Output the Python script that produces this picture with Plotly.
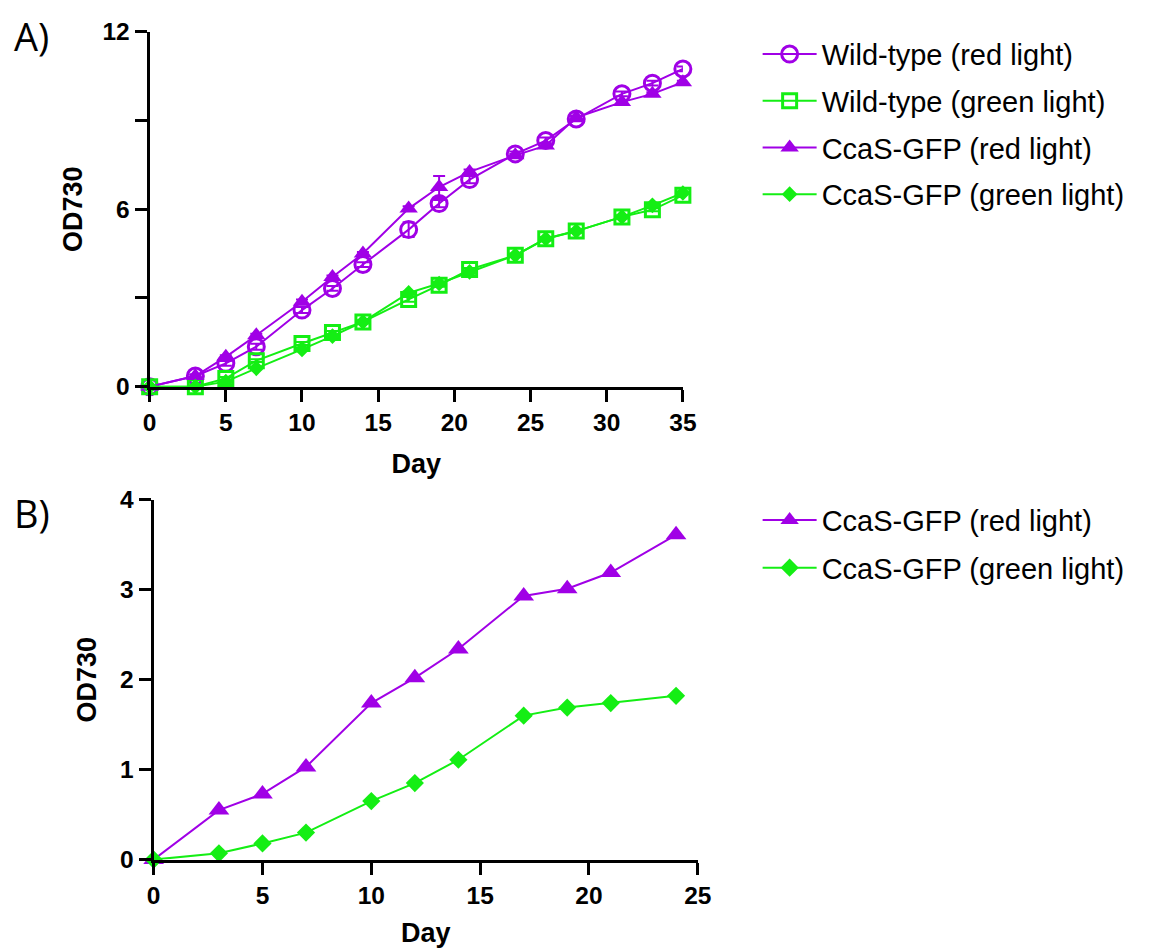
import plotly.graph_objects as go

# Figure size and a small screen-to-figure pixel calibration
FW, FH = 1150, 960
KX, CX = 0.985, -2.0
KY, CY = 0.972, 4.5
OFF = 8

# ---------------- Data ----------------
days_a = [0, 3, 5, 7, 10, 12, 14, 17, 19, 21, 24, 26, 28, 31, 33, 35]
wt_red = [0, 0.36, 0.79, 1.35, 2.59, 3.32, 4.13, 5.31, 6.19, 7.0, 7.87, 8.32, 9.05, 9.9, 10.26, 10.74]
wt_red_err = [0, 0.05, 0.08, 0.1, 0.1, 0.08, 0.08, 0.25, 0.12, 0.12, 0.08, 0.1, 0.08, 0.08, 0.08, 0.08]
wt_green = [0, 0.0, 0.28, 0.88, 1.46, 1.83, 2.19, 2.95, 3.43, 3.96, 4.44, 5.0, 5.26, 5.74, 5.98, 6.47]
wt_green_err = [0, 0.03, 0.05, 0.05, 0.05, 0.05, 0.05, 0.08, 0.05, 0.05, 0.05, 0.05, 0.05, 0.05, 0.05, 0.05]
ccas_red_a = [0, 0.36, 1.01, 1.74, 2.87, 3.71, 4.5, 6.02, 6.75, 7.26, 7.82, 8.15, 9.1, 9.62, 9.9, 10.29]
ccas_red_a_err = [0, 0.05, 0.05, 0.05, 0.08, 0.05, 0.05, 0.08, 0.37, 0.08, 0.05, 0.08, 0.05, 0.05, 0.05, 0.05]
ccas_green_a = [0, 0.0, 0.17, 0.62, 1.26, 1.71, 2.19, 3.17, 3.49, 3.88, 4.44, 5.0, 5.26, 5.74, 6.13, 6.55]
ccas_green_a_err = [0, 0.02, 0.03, 0.03, 0.05, 0.05, 0.05, 0.05, 0.05, 0.05, 0.05, 0.05, 0.05, 0.05, 0.05, 0.05]

days_b = [0, 3, 5, 7, 10, 12, 14, 17, 19, 21, 24]
ccas_red_b = [0, 0.55, 0.73, 1.03, 1.74, 2.02, 2.34, 2.93, 3.01, 3.19, 3.61]
ccas_green_b = [0, 0.07, 0.18, 0.30, 0.65, 0.85, 1.11, 1.60, 1.69, 1.74, 1.82]

names = ["Wild-type (red light)", "Wild-type (green light)",
         "CcaS-GFP (red light)", "CcaS-GFP (green light)"]

PURPLE = "#A000E6"
GREEN = "#14EE14"

fig = go.Figure()

def err(vals, color):
    return dict(type="data", array=vals, visible=True, color=color,
                thickness=2, width=6)

# Panel A
fig.add_trace(go.Scatter(x=days_a, y=wt_red, name=names[0], mode="lines+markers",
    line=dict(color=PURPLE, width=2),
    marker=dict(symbol="circle-open", size=16, color=PURPLE, line=dict(width=3)),
    error_y=err(wt_red_err, PURPLE),
    xaxis="x", yaxis="y", legend="legend", legendgroup="a1", cliponaxis=False))
fig.add_trace(go.Scatter(x=days_a, y=wt_green, name=names[1], mode="lines+markers",
    line=dict(color=GREEN, width=2),
    marker=dict(symbol="square-open", size=14, color=GREEN, line=dict(width=3)),
    error_y=err(wt_green_err, GREEN),
    xaxis="x", yaxis="y", legend="legend", legendgroup="a2", cliponaxis=False))
fig.add_trace(go.Scatter(x=days_a, y=ccas_red_a, name=names[2], mode="lines+markers",
    line=dict(color=PURPLE, width=2),
    marker=dict(symbol="triangle-up", size=16, color=PURPLE),
    error_y=err(ccas_red_a_err, PURPLE),
    xaxis="x", yaxis="y", legend="legend", legendgroup="a3", cliponaxis=False))
fig.add_trace(go.Scatter(x=days_a, y=ccas_green_a, name=names[3], mode="lines+markers",
    line=dict(color=GREEN, width=2),
    marker=dict(symbol="diamond", size=12, color=GREEN),
    error_y=err(ccas_green_a_err, GREEN),
    xaxis="x", yaxis="y", legend="legend", legendgroup="a4", cliponaxis=False))

# Panel B
fig.add_trace(go.Scatter(x=days_b, y=ccas_red_b, name=names[2], mode="lines+markers",
    line=dict(color=PURPLE, width=2),
    marker=dict(symbol="triangle-up", size=18, color=PURPLE),
    xaxis="x2", yaxis="y2", legend="legend2", legendgroup="b1", cliponaxis=False))
fig.add_trace(go.Scatter(x=days_b, y=ccas_green_b, name=names[3], mode="lines+markers",
    line=dict(color=GREEN, width=2),
    marker=dict(symbol="diamond", size=14, color=GREEN),
    xaxis="x2", yaxis="y2", legend="legend2", legendgroup="b2", cliponaxis=False))

def px_x(s):
    return ((s - CX) / KX - OFF) / FW

def px_y(s):
    return 1 - ((s - CY) / KY - OFF) / FH

tickfont = dict(family="Liberation Sans", size=24.5, color="black", weight="bold")
titlefont = dict(family="Liberation Sans", size=27, color="black", weight="bold")
legfont = dict(family="Liberation Sans", size=29, color="black")

axis_common = dict(showline=True, linecolor="black", linewidth=3, ticks="outside",
                   tickwidth=3, ticklen=12, tickcolor="black", showgrid=False,
                   zeroline=False, tickfont=tickfont, title_font=titlefont)

fig.update_layout(
    width=FW, height=FH,
    margin=dict(l=0, r=0, t=0, b=0),
    paper_bgcolor="white", plot_bgcolor="white",
    xaxis=dict(domain=[px_x(149), px_x(684)], range=[0, 35], tickvals=[0, 5, 10, 15, 20, 25, 30, 35],
               anchor="y", title=dict(text="Day", standoff=20), **axis_common),
    yaxis=dict(domain=[px_y(386), px_y(31)], range=[0, 12],
               tickvals=[0, 3, 6, 9, 12], ticktext=["0", "", "6", "", "12"],
               anchor="x", title=dict(text="OD730", standoff=13), **axis_common),
    xaxis2=dict(domain=[px_x(153), px_x(699)], range=[0, 25], tickvals=[0, 5, 10, 15, 20, 25],
                anchor="y2", title=dict(text="Day", standoff=16), **axis_common),
    yaxis2=dict(domain=[px_y(859), px_y(499)], range=[0, 4], tickvals=[0, 1, 2, 3, 4],
                anchor="x2", title=dict(text="OD730", standoff=16), **axis_common),
    legend=dict(x=px_x(759), y=px_y(28), xanchor="left", yanchor="top",
                font=legfont, traceorder="grouped", tracegroupgap=6, itemwidth=54,
                bgcolor="rgba(0,0,0,0)"),
    legend2=dict(x=px_x(759), y=px_y(494), xanchor="left", yanchor="top",
                 font=legfont, traceorder="grouped", tracegroupgap=7, itemwidth=54,
                 bgcolor="rgba(0,0,0,0)"),
    annotations=[
        dict(text="A)", x=px_x(11), y=px_y(35), xref="paper", yref="paper",
             xanchor="left", yanchor="middle", showarrow=False,
             font=dict(family="Open Sans", size=38, color="black")),
        dict(text="B)", x=px_x(11), y=px_y(512), xref="paper", yref="paper",
             xanchor="left", yanchor="middle", showarrow=False,
             font=dict(family="Open Sans", size=38, color="black")),
    ],
)

fig.write_html("out.html")
